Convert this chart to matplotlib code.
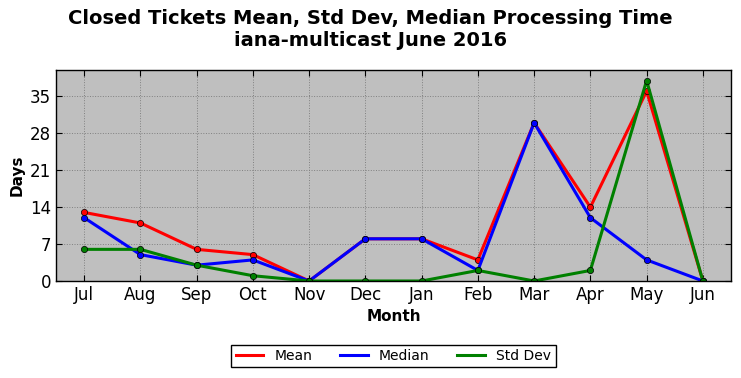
import matplotlib
matplotlib.use("Agg")
import matplotlib.pyplot as plt

months = ["Jul", "Aug", "Sep", "Oct", "Nov", "Dec", "Jan", "Feb", "Mar", "Apr", "May", "Jun"]
mean_days = [13, 11, 6, 5, 0, 8, 8, 4, 30, 14, 36, 0]
median_days = [12, 5, 3, 4, 0, 8, 8, 2, 30, 12, 4, 0]
std_days = [6, 6, 3, 1, 0, 0, 0, 2, 0, 2, 38, 0]
y_ticks = [0, 7, 14, 21, 28, 35]

fig = plt.figure(figsize=(7.41, 3.78), dpi=100)
ax = fig.add_axes([56 / 741, 1 - 281 / 378, 675 / 741, 211 / 378])
ax.set_facecolor("#bfbfbf")

x = list(range(len(months)))
for vals, col, lab in [(mean_days, "red", "Mean"),
                       (median_days, "blue", "Median"),
                       (std_days, "green", "Std Dev")]:
    # line carries the legend entry, markers drawn separately (no legend marker)
    ax.plot(x, vals, color=col, lw=2.2, label=lab)
    ax.plot(x, vals, linestyle="none", marker="o", markersize=4.5,
            markerfacecolor=col, markeredgecolor="black", markeredgewidth=0.5)

ax.set_xlim(-0.5, 11.5)
ax.set_ylim(0, 40)
ax.set_xticks(x)
ax.set_xticklabels(months)
ax.set_yticks(y_ticks)
ax.tick_params(direction="in", top=True, right=True, labelsize=12, length=4)
ax.grid(True, color="#808080", linestyle=":", linewidth=0.7)
for s in ax.spines.values():
    s.set_linewidth(1.0)

ax.set_xlabel("Month", fontsize=11, fontweight="bold")
ax.set_ylabel("Days", fontsize=11, fontweight="bold")
fig.suptitle("Closed Tickets Mean, Std Dev, Median Processing Time\niana-multicast June 2016",
             fontsize=14, fontweight="bold", y=0.975)

leg = ax.legend(loc="upper center", bbox_to_anchor=(0.5, -0.27), ncol=3,
                fancybox=False, fontsize=10, handlelength=2, columnspacing=2.0,
                borderpad=0.3, framealpha=1, edgecolor="black")
leg.get_frame().set_linewidth(1.0)

fig.savefig("out.png", dpi=100)
